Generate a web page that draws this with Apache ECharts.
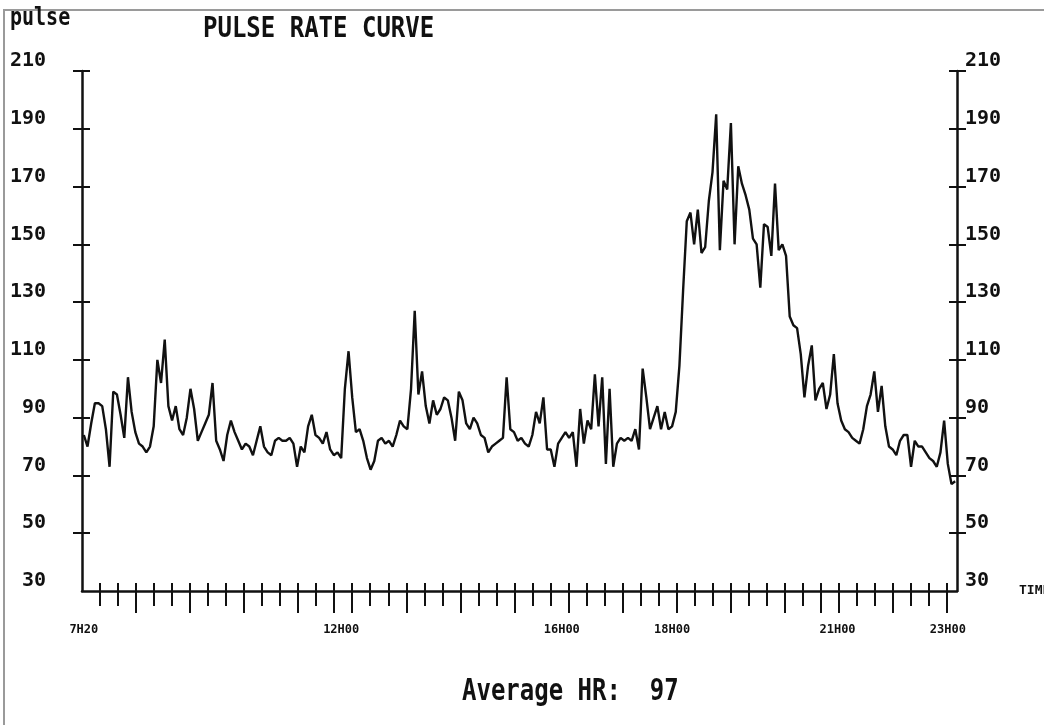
<!DOCTYPE html>
<html><head><meta charset="utf-8">
<script src="https://cdn.jsdelivr.net/npm/echarts@6/dist/echarts.min.js"></script>
<style>html,body{margin:0;padding:0;background:#fff}#c{width:1044px;height:725px}</style>
</head><body><div id="c"></div>
<script>
// ---- data ----
const sampleStartMin = 440;   // 7H20, minutes after midnight
const sampleStepMin = 4;      // one reading every 4 minutes
const pulse = [
  84,80,88,95,95,94,86,73,99,98, 91,83,104,92,85,81,80,78,80,87,
  110,102,117,94,89,94,86,84,90,100, 93,82,85,88,91,102,82,79,75,84,
  89,85,82,79,81,80,77,82,87,80, 78,77,82,83,82,82,83,81,73,80,
  78,87,91,84,83,81,85,79,77,78, 76,100,113,97,85,86,82,76,72,75,
  82,83,81,82,80,84,89,87,86,100, 127,98,106,94,88,96,91,93,97,96,
  90,82,99,96,88,86,90,88,84,83, 78,80,81,82,83,104,86,85,82,83,
  81,80,84,92,88,97,79,79,73,81, 83,85,83,85,73,93,81,89,86,105,
  87,104,74,100,73,81,83,82,83,82, 86,79,107,97,86,90,94,86,92,86,
  87,92,108,134,158,161,150,162,147,149, 165,175,195,148,172,169,192,150,177,171,
  167,162,152,150,135,157,156,146,171,148, 150,146,125,122,121,112,97,108,115,96,
  100,102,93,98,112,95,89,86,85,83, 82,81,86,94,98,106,92,101,87,80,
  79,77,82,84,84,73,82,80,80,78, 76,75,73,78,89,74,67,68
];
const timeTickMinutes = [440, 720, 960, 1080, 1260, 1380];
const timeTickLabels = ['7H20', '12H00', '16H00', '18H00', '21H00', '23H00'];
const pulseTicks = [30, 50, 70, 90, 110, 130, 150, 170, 190, 210];
const pulseTickMarks = [50, 70, 90, 110, 130, 150, 170, 190, 210];
const timeScaleTicks = 48;                  // small time ticks along the base
const timeScaleLongTicks = [3, 6, 9, 12, 14, 15, 18, 21, 24, 27, 30, 33, 36, 39, 41, 42, 45, 48];
const avgHR = 97;

// ---- build ----
const seriesData = pulse.map((v, i) => [sampleStartMin + i * sampleStepMin, v]);
const shortTickIdx = [];
for (let i = 1; i <= timeScaleTicks; i++) shortTickIdx.push(i);

const FONT = '"DejaVu Sans Mono", "Liberation Mono", monospace';
const INK = '#111';

function tickAxis(values, len) {
  return {
    type: 'value', position: 'bottom', offset: -8, min: 0, max: 48.57, gridIndex: 0,
    axisLine: { show: false, onZero: false },
    axisLabel: { show: false },
    splitLine: { show: false },
    axisTick: { show: true, inside: false, length: len, customValues: values,
                lineStyle: { color: INK, width: 2 } }
  };
}
function yAxisBase(pos, labels, inside, len) {
  return {
    type: 'value', position: pos, min: 30, max: 210,
    axisLine: { show: !inside, onZero: false, lineStyle: { color: INK, width: 2.5 } },
    splitLine: { show: false },
    axisTick: { show: true, inside: inside, length: len, customValues: pulseTickMarks,
                lineStyle: { color: INK, width: 2 } },
    axisLabel: labels ? {
      show: true, customValues: pulseTicks, fontFamily: FONT, fontWeight: 'bold',
      fontSize: 20, color: INK, verticalAlign: 'bottom',
      margin: pos === 'left' ? 36 : 8
    } : { show: false }
  };
}

const chart = echarts.init(document.getElementById('c'), null, { renderer: 'canvas' });
chart.setOption({
  animation: false,
  backgroundColor: '#fff',
  grid: { left: 82, right: 87, top: 71, bottom: 134, containLabel: false },
  xAxis: [
    {
      type: 'value', position: 'bottom', min: 438, max: 1390,
      axisLine: { show: true, onZero: false, lineStyle: { color: INK, width: 2.5 } },
      axisTick: { show: false },
      splitLine: { show: false },
      axisLabel: {
        customValues: timeTickMinutes,
        formatter: v => { const i = timeTickMinutes.indexOf(v); return i >= 0 ? timeTickLabels[i] : ''; },
        fontFamily: FONT, fontWeight: 'bold', fontSize: 12, color: INK, margin: 33
      }
    },
    tickAxis(shortTickIdx, 23),
    tickAxis(timeScaleLongTicks, 30)
  ],
  yAxis: [
    yAxisBase('left', true, false, 9),
    yAxisBase('left', false, true, 8),
    yAxisBase('right', true, false, 9),
    yAxisBase('right', false, true, 8)
  ],
  series: [{
    type: 'line', xAxisIndex: 0, yAxisIndex: 0,
    data: seriesData, showSymbol: false, symbol: 'none',
    lineStyle: { color: INK, width: 2.4 }
  }],
  graphic: [
    { type: 'rect', shape: { x: 4, y: 10, width: 1060, height: 740 },
      style: { fill: 'none', stroke: '#9a9a9a', lineWidth: 2 }, silent: true },
    { type: 'text', x: 10, y: 6, scaleY: 1.25,
      style: { text: 'pulse', font: 'bold 20px ' + FONT, fill: INK, verticalAlign: 'top' } },
    { type: 'text', x: 203, y: 15, scaleY: 1.2,
      style: { text: 'PULSE RATE CURVE', font: 'bold 24px ' + FONT, fill: INK, verticalAlign: 'top' } },
    { type: 'text', x: 1019, y: 584,
      style: { text: 'TIME', font: 'bold 13px ' + FONT, fill: INK, verticalAlign: 'top' } },
    { type: 'text', x: 462, y: 677, scaleY: 1.25,
      style: { text: 'Average HR:  ' + avgHR, font: 'bold 24px ' + FONT, fill: INK, verticalAlign: 'top' } }
  ]
});
</script>
</body></html>
